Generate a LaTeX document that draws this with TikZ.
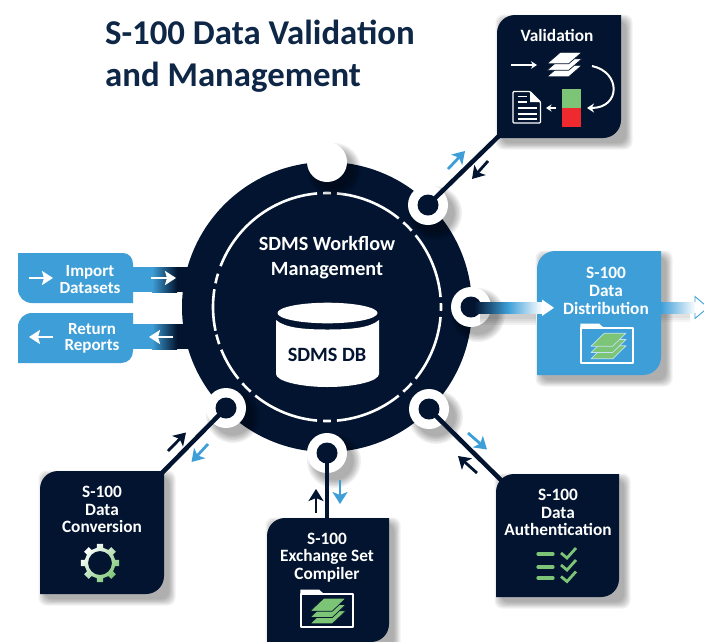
\documentclass[tikz,border=0pt]{standalone}
\usepackage{fontspec}
\setmainfont{Carlito}
\usetikzlibrary{arrows.meta,calc}
\definecolor{navy}{HTML}{02142F}
\definecolor{titlenavy}{HTML}{0E2747}
\definecolor{skyb}{HTML}{3E9FD8}
\definecolor{leaf}{HTML}{7CC576}
\definecolor{alarm}{HTML}{EE2A2E}
\tikzset{
  x=1pt,y=-1pt,
  boxtext/.style={font=\bfseries\fontsize{17.3}{17.8}\selectfont,text=white,align=center,inner sep=0pt},
  tabtext/.style={font=\bfseries\fontsize{17}{16.4}\selectfont,text=white,align=center,inner sep=0pt},
  hubtext/.style={font=\bfseries\fontsize{20.2}{25}\selectfont,text=white,align=center,inner sep=0pt},
  titletext/.style={font=\bfseries\fontsize{34.8}{42}\selectfont,text=titlenavy,align=left,anchor=north west,inner sep=0pt},
  ringport/.style={circle,fill=white,minimum size=40pt,inner sep=0pt},
  hole/.style={circle,fill=navy,minimum size=21pt,inner sep=0pt},
  link/.style={draw=navy,line width=4.5pt},
  glyph/.style={line width=2.8pt,-{Stealth[length=12pt,width=15pt,inset=3pt]}},
  wglyph/.style={draw=white,line width=2.6pt,-{Stealth[length=11pt,width=14pt,inset=2pt]}},
  anchorbox/.style={rectangle,inner sep=0pt},
}
\newcommand\boxpath[4]{(#1,#4) -- (#1,#2+18) .. controls (#1,#2+8) and (#1+8,#2) .. (#1+18,#2) -- (#3,#2) -- (#3,#4-18) .. controls (#3,#4-8) and (#3-8,#4) .. (#3-18,#4) -- cycle}
\newcommand\softbox[6]{% x1 y1 x2 y2 colour name : shadow and anchor
  \foreach \w in {15,12.5,10,7.5,5,2.5}{
    \fill[black,opacity=.06,rounded corners=8pt] (#1-\w/2+6,#2-\w/2+7) rectangle (#3+\w/2+4,#4+\w/2+4);
  }
  \node[anchorbox,minimum width=#3pt-#1pt,minimum height=#4pt-#2pt] (#6) at ({(#1+#3)/2},{(#2+#4)/2}) {};
}
\newcommand\softdisc[3]{% x y r
  \foreach \w in {18,15,12,9,6,3}{
    \fill[black,opacity=.06] (#1+7,#2+8) circle[radius=#3+\w/2-2];
  }
}
\newcommand\layerstack[7]{% cx cy w h offset fill line
  \foreach \k in {1,0,-1}{
    \filldraw[fill=#6,draw=#7,line width=.7pt,line join=round]
      ({#1-#3/2},{#2+\k*#5+#4/2}) -- ({#1-#3/2+.38*#3},{#2+\k*#5-#4/2})
      -- ({#1+#3/2},{#2+\k*#5-#4/2}) -- ({#1+#3/2-.38*#3},{#2+\k*#5+#4/2}) -- cycle;
  }
}
\newcommand\foldericon[4]{% x1 y1 x2 y2 : folder outline
  \draw[white,line width=1.3pt,line join=round] (#1,#2) -- (#1,#4) -- (#3,#4) -- (#3,#2) -- cycle;
  \fill[white] (#1-.6,#2) -- (#1-.6,#2-4.5) -- (#1+18,#2-4.5) -- (#1+23,#2) -- cycle;
}
\begin{document}
\begin{tikzpicture}
\useasboundingbox (0,0) rectangle (704,641);
\fill[white] (0,0) rectangle (704,641);

% title
\node[titletext] (title) at (105,20) {S-100 Data Validation\\and Management};

% left tabs and their bands
\fill[skyb] (130,267) rectangle (152,292);
\shade[left color=skyb,right color=navy] (152,267) rectangle (177,292);
\fill[navy] (176.5,267) rectangle (200,292);
\fill[skyb] (130,324) rectangle (152,349);
\shade[left color=skyb,right color=navy] (152,324) rectangle (177,349);
\fill[navy] (176.5,324) rectangle (200,349);
\fill[skyb] (18,253) -- (123,253) .. controls (129,253) and (133,258) .. (133,264) -- (133,303) -- (32,303) .. controls (24,303) and (18,297) .. (18,289) -- cycle;
\fill[skyb] (32,313) -- (133,313) -- (133,351) .. controls (133,358) and (128,363) .. (121,363) -- (18,363) -- (18,327) .. controls (18,319) and (24,313) .. (32,313) -- cycle;
\node[tabtext] (importtext) at (90,279.5) {Import\\Datasets};
\node[tabtext] (returntext) at (92,338.5) {Return\\Reports};
\draw[wglyph] (29,278) -- (53,278);
\draw[wglyph] (151,278) -- (176,278);
\draw[wglyph] (53,337) -- (29,337);
\draw[wglyph] (173,337) -- (149,337);

% hub
\fill[navy] (327,307) circle[radius=145];
\node[anchorbox] (hub) at (327,307) {};
\begin{scope}[shift={(327,307)},yscale=-1]
  \foreach \a/\b in {-2/2,5/39,42/48,51/85,88/92,95/159,163/168,171/192,194/199,202/219,222/228,231/265,268/272,275/309,312/318,321/355}{
    \draw[white,line width=2.6pt] (\a:114) arc[start angle=\a,end angle=\b,radius=114];
  }
\end{scope}
\node[hubtext] (hubtext) at (327,257.5) {SDMS Workflow\\Management};

% database
\fill[white] (276,320) -- (276,374) .. controls (276,381) and (300,387) .. (327.5,387) .. controls (355,387) and (379,381) .. (379,374) -- (379,320) .. controls (370,328) and (350,329.5) .. (327.5,329.5) .. controls (305,329.5) and (285,328) .. (276,320) -- cycle;
\fill[white] (327.5,313) ellipse[x radius=50,y radius=10.3];
\node[font=\bfseries\fontsize{20.3}{22}\selectfont,text=navy,inner sep=0pt] (db) at (327,355) {SDMS DB};

% box shadows and box anchors
\softbox{497}{15}{621}{138}{navy}{valbox}
\softbox{537}{251}{661}{375}{skyb}{distbox}
\softbox{40}{471}{164}{594}{navy}{convbox}
\softbox{267}{518}{389}{642}{navy}{compbox}
\softbox{496}{474}{619}{597}{navy}{authbox}

% port shadows
\softdisc{327}{162}{20}
\softdisc{428}{205}{20}
\softdisc{471}{307}{20}
\softdisc{429}{409}{20}
\softdisc{327}{453}{20}
\softdisc{226}{408}{20}

% ports
\node[ringport] (ptop) at (327,162) {};
\node[ringport] (pval) at (428,205) {};
\node[ringport] (pdist) at (471,307) {};
\node[ringport] (pauth) at (429,409) {};
\node[ringport] (pcomp) at (327,453) {};
\node[ringport] (pconv) at (226,408) {};
\node[hole] at (pval) {};
\node[hole] at (pdist) {};
\node[hole] at (pauth) {};
\node[hole] at (pcomp) {};
\node[hole] at (pconv) {};

% connectors
\coordinate (compin) at (327,530);
\coordinate (authin) at (505,484);
\draw[link] (pval.center) -- ($(valbox.south west)+(8,-8)$);
\draw[link] (pconv.center) -- ($(convbox.north east)+(-8,8)$);
\draw[link] (pcomp.center) -- (compin);
\draw[link] (pauth.center) -- (authin);

% box bodies
\fill[navy] \boxpath{497}{15}{621}{138};
\fill[skyb] \boxpath{537}{251}{661}{375};
\fill[navy] \boxpath{40}{471}{164}{594};
\fill[navy] \boxpath{267}{518}{389}{642};
\fill[navy] \boxpath{496}{474}{619}{597};

% distribution arrows
\foreach \w in {8,6,4,2}{
  \fill[black,opacity=.05] (480,{307-\w+4}) rectangle (536,{314+\w+3});
}
\shade[left color=navy,right color=white,middle color=skyb] (474,302.5) rectangle (542,313.5);
\fill[white] (542,299.5) -- (554,307.8) -- (542,316) -- cycle;
\foreach \w in {6,4,2}{
  \fill[black,opacity=.04] (661,{306-\w+4}) rectangle (690,{313+\w+3});
}
\shade[left color=skyb,right color=white] (661,302) rectangle (696,313);
\filldraw[fill=white,draw=skyb,line width=.9pt,line join=miter] (695,302) -- (695,296.5) -- (708,307.5) -- (695,318.5) -- (695,313);

% small arrows
\draw[glyph,skyb] (448,169) -- (465,151);
\draw[glyph,navy] (488,161) -- (472,179);
\draw[glyph,navy] (168,451) -- (186,432.5);
\draw[glyph,skyb] (208,444) -- (191.5,462);
\draw[glyph,navy] (316,513) -- (316,489);
\draw[glyph,skyb] (340,480) -- (340,504);
\draw[glyph,skyb] (468,433) -- (487,449.5);
\draw[glyph,navy] (477,473) -- (458,456);

% box texts
\node[boxtext] (valtext) at (557,35) {Validation};
\node[boxtext] (disttext) at (606,291) {S-100\\Data\\Distribution};
\node[boxtext] (convtext) at (102,509.5) {S-100\\Data\\Conversion};
\node[boxtext] (comptext) at (327,557.5) {S-100\\Exchange Set\\Compiler};
\node[boxtext] (authtext) at (558,512.5) {S-100\\Data\\Authentication};

% validation icon
\draw[white,line width=1.4pt,-{Stealth[length=6pt,width=7.5pt]}] (511,65) -- (537,65);
\layerstack{564.5}{64.5}{35}{11.5}{6.5}{white}{navy}
\draw[white,line width=2pt,-{Stealth[length=7pt,width=9pt]}] (592,66) .. controls (621,72) and (621,108) .. (587,108);
\draw[white,line width=1.6pt,-{Stealth[length=5.5pt,width=7pt]}] (556,108) -- (546,108);
\fill[leaf] (562,89) rectangle (581,108);
\fill[alarm] (562,108) rectangle (581,127);
\draw[white,line width=1.3pt,line join=round,rounded corners=1pt] (513,91.5) -- (530,91.5) -- (540.5,102) -- (540.5,123) -- (513,123) -- cycle;
\fill[white] (530,91.5) -- (530,102) -- (540.5,102) -- cycle;
\foreach \yy/\xe in {96.5/527,102/527,108/537,114/537,119/537}{
  \draw[white,line width=1.4pt] (517.5,\yy) -- (\xe,\yy);
}

% folder icons
\foldericon{581}{328}{633}{363}
\layerstack{608.5}{346}{35}{13}{6.3}{leaf}{skyb!30!white}
\foldericon{301}{594}{353}{627}
\layerstack{328}{611}{36}{13}{6.3}{leaf}{navy}

% gear
\begin{scope}[shift={(100,563)},yscale=-1]
  \shade[even odd rule,left color=white,right color=leaf,shading angle=45]
    (-12:15.5) \foreach \a in {0,45,...,315}{ -- (\a-12:15.5) -- (\a-9.5:19.5) -- (\a+9.5:19.5) -- (\a+12:15.5)} -- cycle
    (0,0) circle[radius=12];
\end{scope}

% check list
\foreach \yy in {554,567,578}{
  \draw[leaf,line width=3.2pt,line cap=round] (538,\yy) -- (553,\yy);
}
\foreach \yy in {553,565,576.5}{
  \draw[leaf,line width=2.8pt] (561,\yy) -- (567,\yy+5) -- (576,\yy-5);
}
\end{tikzpicture}
\end{document}
